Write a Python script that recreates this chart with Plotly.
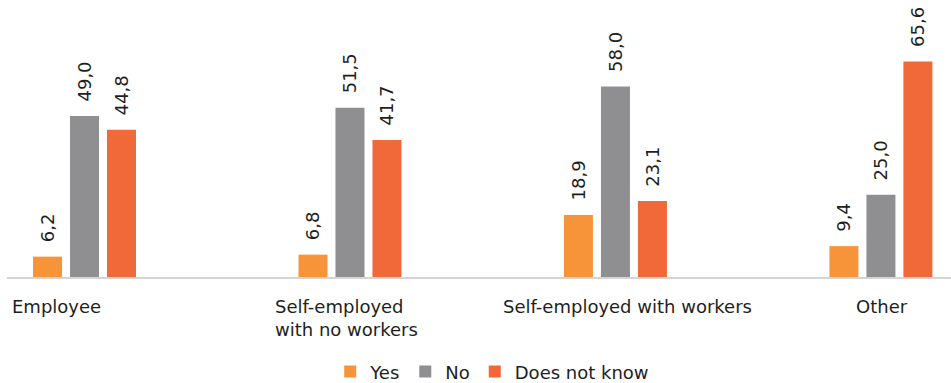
import plotly.graph_objects as go

# Employment status groups and the share of answers (%) per response
categories = ["Employee", "Self-employed<br>with no workers", "Self-employed with workers", "Other"]
series_names = ["Yes", "No", "Does not know"]
yes_values = [6.2, 6.8, 18.9, 9.4]
no_values = [49.0, 51.5, 58.0, 25.0]
dnk_values = [44.8, 41.7, 23.1, 65.6]

colors = ["#F7943A", "#8F8F91", "#F16839"]
font_family = "DejaVu Sans"
text_color = "#1E1E1E"

fig = go.Figure()
for name, vals, col in zip(series_names, [yes_values, no_values, dnk_values], colors):
    fig.add_trace(go.Bar(
        x=list(range(len(categories))),
        y=vals,
        name=name,
        marker=dict(color=col, line=dict(width=0)),
        texttemplate="\u00a0\u00a0%{y:.1f}",
        textposition="outside",
        textangle=-90,
        constraintext="none",
        textfont=dict(family=font_family, size=18, color=text_color),
        cliponaxis=False,
        hoverinfo="skip",
    ))

# Category labels under the axis, left-aligned text blocks
label_shift = [-28, -3, 12, 1]
for i, (cat, dx) in enumerate(zip(categories, label_shift)):
    fig.add_annotation(
        x=i, y=0, xref="x", yref="y",
        text=cat, showarrow=False,
        xanchor="center", yanchor="top", align="left",
        xshift=dx, yshift=-17,
        font=dict(family=font_family, size=18, color=text_color),
    )

fig.update_layout(
    width=951, height=383,
    margin=dict(l=7, r=0, t=20, b=106, autoexpand=False),
    paper_bgcolor="white", plot_bgcolor="white",
    barmode="group", bargap=0.582, bargroupgap=0.216,
    separators=", ",
    showlegend=True,
    legend=dict(
        orientation="h", xref="paper", x=0.514, xanchor="center",
        yref="container", y=0.029, yanchor="middle",
        font=dict(family=font_family, size=18, color=text_color),
        itemwidth=30, traceorder="normal",
    ),
    xaxis=dict(
        range=[-0.292, 3.264], showticklabels=False, ticks="",
        showgrid=False, zeroline=False,
        showline=True, linecolor="#D4D4D4", linewidth=2,
    ),
    yaxis=dict(range=[0, 78.2], visible=False, showgrid=False, zeroline=False),
)

fig.write_html("out.html")
